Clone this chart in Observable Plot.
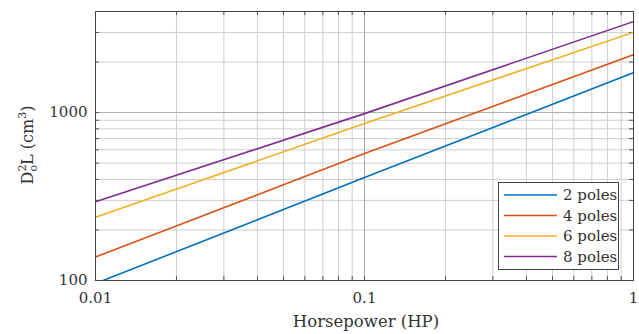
<!DOCTYPE html>
<html>
<head>
<meta charset="utf-8">
<script src="https://cdn.jsdelivr.net/npm/d3@7"></script>
<script src="https://cdn.jsdelivr.net/npm/@observablehq/plot@0.6"></script>
<style>
  html, body { margin: 0; padding: 0; background: #fff; }
  #chart svg { display: block; }
</style>
</head>
<body>
<div id="chart"></div>
<script>
// ---- data ----
const hp = [0.01, 0.1, 1];
const poles2 = [96, 410, 1730];
const poles4 = [138, 570, 2214];
const poles6 = [238, 861, 3006];
const poles8 = [294, 986, 3484];
const seriesNames = ["2 poles", "4 poles", "6 poles", "8 poles"];
const seriesColors = ["#0072BD", "#D95319", "#EDB120", "#7E2F8E"];
const xTickLabels = [0.01, 0.1, 1];
const yTickLabels = [100, 1000];
const xLabel = "Horsepower (HP)";

const allSeries = [poles2, poles4, poles6, poles8];
const data = [];
allSeries.forEach((vals, i) => vals.forEach((v, j) => data.push({hp: hp[j], v, series: seriesNames[i]})));

const xMinor = [], yMinor = [];
for (const d of [0.01, 0.1]) for (let k = 2; k <= 9; k++) xMinor.push(+(d * k).toPrecision(3));
for (const d of [100, 1000]) for (let k = 2; k <= 9; k++) if (d * k <= 4000) yMinor.push(d * k);

const font = "DejaVu Serif";
const W = 639, H = 334, mL = 95, mR = 6, mT = 11, mB = 54;

const chart = Plot.plot({
  width: W, height: H,
  marginLeft: mL, marginRight: mR, marginTop: mT, marginBottom: mB,
  style: {fontFamily: font, fontSize: "15px", color: "#333", background: "#fff", overflow: "visible"},
  x: {type: "log", domain: [0.01, 1]},
  y: {type: "log", domain: [100, 4000]},
  color: {domain: seriesNames, range: seriesColors},
  marks: [
    Plot.ruleX(xMinor, {stroke: "#cfcfcf", strokeWidth: 1}),
    Plot.ruleY(yMinor, {stroke: "#cfcfcf", strokeWidth: 1}),
    Plot.ruleX(xTickLabels, {stroke: "#acacac", strokeWidth: 1}),
    Plot.ruleY(yTickLabels, {stroke: "#acacac", strokeWidth: 1}),
    Plot.tickX(xMinor.concat(xTickLabels), {insetTop: 265, stroke: "#555"}),
    Plot.tickX(xMinor.concat(xTickLabels), {insetBottom: 265, stroke: "#555"}),
    Plot.tickY(yMinor.concat(yTickLabels), {insetLeft: 534, stroke: "#555"}),
    Plot.tickY(yMinor.concat(yTickLabels), {insetRight: 534, stroke: "#555"}),
    Plot.line(data, {x: "hp", y: "v", z: "series", stroke: "series", strokeWidth: 1.6, clip: true}),
    Plot.frame({stroke: "#444", strokeWidth: 1}),
    Plot.axisX(xTickLabels, {tickSize: 0, tickPadding: 12, tickFormat: d => String(d), label: null, fill: "#333"}),
    Plot.axisY(yTickLabels, {tickSize: 0, tickPadding: 8, tickFormat: d => String(d), label: null, fill: "#333"})
  ]
});
document.getElementById("chart").appendChild(chart);

// axis titles and legend
const svg = d3.select(chart);
svg.append("text")
  .attr("x", (mL + W - mR) / 2 + 2).attr("y", 327)
  .attr("text-anchor", "middle")
  .attr("font-family", font).attr("font-size", 16.5).attr("fill", "#333")
  .text(xLabel);

const yl = svg.append("text")
  .attr("transform", "translate(33,145) rotate(-90)")
  .attr("text-anchor", "middle")
  .attr("font-family", font).attr("font-size", 16).attr("fill", "#333");
yl.append("tspan").text("D");
yl.append("tspan").attr("font-size", 11).attr("dy", -7).text("2");
yl.append("tspan").attr("font-size", 11).attr("dx", -7).attr("dy", 11).text("o");
yl.append("tspan").attr("dy", -4).text("L");
yl.append("tspan").text("\u00a0(cm");
yl.append("tspan").attr("font-size", 11).attr("dy", -7).text("3");
yl.append("tspan").attr("dy", 7).text(")");

const lg = svg.append("g");
lg.append("rect").attr("x", 498.5).attr("y", 182.5).attr("width", 120).attr("height", 87)
  .attr("fill", "#fff").attr("stroke", "#444").attr("stroke-width", 1);
seriesNames.forEach((name, i) => {
  const yy = 195 + i * 20.5;
  lg.append("line").attr("x1", 504).attr("x2", 557).attr("y1", yy).attr("y2", yy)
    .attr("stroke", seriesColors[i]).attr("stroke-width", 1.6);
  lg.append("text").attr("x", 563).attr("y", yy).attr("dy", "0.35em")
    .attr("text-anchor", "start")
    .attr("font-family", font).attr("font-size", 15).attr("fill", "#333").text(name);
});
</script>
</body>
</html>
